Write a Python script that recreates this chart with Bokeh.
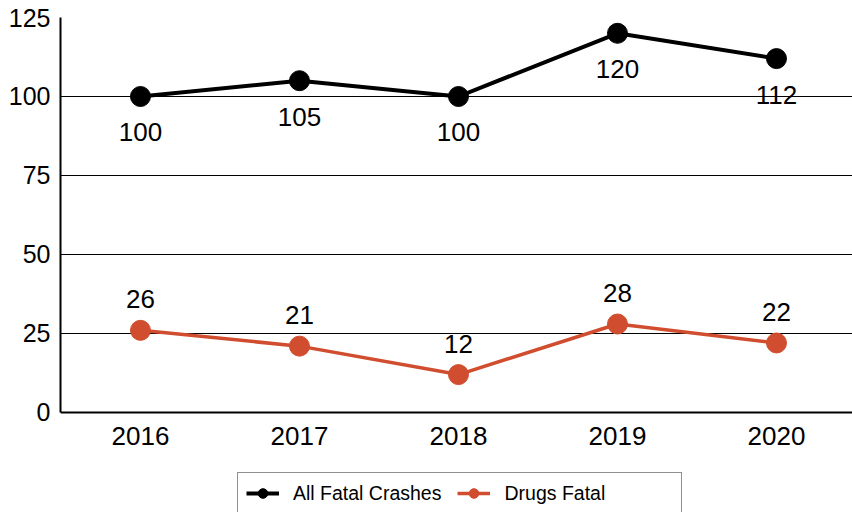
from bokeh.plotting import figure
from bokeh.models import Range1d, FixedTicker, Legend, LegendItem, Span
from bokeh.core.properties import value
from bokeh.embed import file_html
from bokeh.resources import INLINE

years = [2016, 2017, 2018, 2019, 2020]
year_labels = ["2016", "2017", "2018", "2019", "2020"]
all_fatal = [100, 105, 100, 120, 112]
drugs_fatal = [26, 21, 12, 28, 22]
y_ticks = [0, 25, 50, 75, 100, 125]

BLACK = "#000000"
ORANGE = "#D04E2F"
FONT = "Liberation Sans"

# frame: x 60..852, y 17..512 ; value 0 sits at y=412, 125 at y=17
p = figure(width=852, height=512, output_backend="svg", toolbar_location=None,
           x_range=Range1d(2015.497, 2020.478), y_range=Range1d(-31.646, 125),
           x_axis_location=None,
           min_border_left=60, min_border_right=0, min_border_top=17, min_border_bottom=0)
p.outline_line_color = None
p.background_fill_color = "white"
p.border_fill_color = "white"

p.xgrid.grid_line_color = None
p.ygrid.grid_line_color = "#000000"
p.ygrid.grid_line_width = 1
p.ygrid.ticker = FixedTicker(ticks=y_ticks)

p.yaxis.ticker = FixedTicker(ticks=y_ticks)
p.yaxis.bounds = (0, 125)
p.yaxis.axis_line_color = BLACK
p.yaxis.axis_line_width = 2
p.yaxis.major_tick_line_color = None
p.yaxis.minor_tick_line_color = None
p.yaxis.major_tick_out = 0
p.yaxis.major_tick_in = 0
p.yaxis.minor_tick_out = 0
p.yaxis.minor_tick_in = 0
p.yaxis.major_label_text_font = FONT
p.yaxis.major_label_text_font_size = "25px"
p.yaxis.major_label_text_color = BLACK
p.yaxis.major_label_standoff = 10

# x axis line at value 0
p.add_layout(Span(location=0, dimension="width", line_color=BLACK, line_width=2))
# year tick labels
p.text(years, [0] * len(years), text=year_labels, y_offset=24,
       text_align="center", text_baseline="middle", text_font=value(FONT),
       text_font_size="26px", text_color=BLACK)

l1 = p.line(years, all_fatal, line_color=BLACK, line_width=4)
s1 = p.scatter(years, all_fatal, size=20, fill_color=BLACK, line_color=BLACK)
l2 = p.line(years, drugs_fatal, line_color=ORANGE, line_width=3.5)
s2 = p.scatter(years, drugs_fatal, size=20, fill_color=ORANGE, line_color=ORANGE)
# invisible renderer used only to pad the legend box on the right
pad = p.line([], [], line_alpha=0)

p.text(years, all_fatal, text=[str(v) for v in all_fatal], y_offset=36,
       text_align="center", text_baseline="middle", text_font=value(FONT),
       text_font_size="26px", text_color=BLACK)
p.text(years, drugs_fatal, text=[str(v) for v in drugs_fatal], y_offset=-31,
       text_align="center", text_baseline="middle", text_font=value(FONT),
       text_font_size="26px", text_color=BLACK)

legend = Legend(items=[LegendItem(label="All Fatal Crashes", renderers=[l1, s1]),
                       LegendItem(label="Drugs Fatal", renderers=[l2, s2]),
                       LegendItem(label=" ", renderers=[pad])],
                location=(177, -2), orientation="horizontal",
                label_text_font=FONT, label_text_font_size="19.5px",
                label_text_color=BLACK,
                glyph_width=33, glyph_height=24, label_standoff=14, spacing=16,
                padding=8, label_width=5,
                border_line_color="#222222", border_line_width=1.5,
                background_fill_alpha=1, margin=0)
p.add_layout(legend, "center")

open("out.html", "w").write(file_html(p, INLINE))
